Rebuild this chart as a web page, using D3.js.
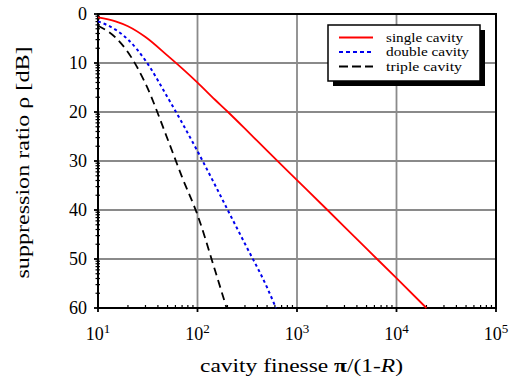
<!DOCTYPE html>
<html><head><meta charset="utf-8">
<script src="https://cdn.jsdelivr.net/npm/d3@7"></script>
<style>
html,body{margin:0;padding:0;background:#fff;}
text{font-family:"Liberation Serif","Times New Roman",serif;fill:#000;}
</style></head>
<body><svg id="c" width="522" height="381"></svg>
<script>
// ---- data ----
const singleF   = [10, 15, 20, 30, 50, 70, 100, 150, 200, 300, 500, 1000, 2000, 5000, 10000, 20000];
const singleRho = [0.7, 1.5, 2.5, 4.7, 8.5, 11.1, 14.0, 17.5, 19.9, 23.4, 27.9, 33.9, 39.9, 47.9, 53.9, 60.0];
const doubleF   = [10, 15, 20, 30, 50, 70, 100, 150, 200, 300, 500, 615];
const doubleRho = [1.5, 3.2, 5.2, 9.5, 17.0, 22.2, 28.0, 34.9, 39.9, 46.9, 55.8, 60.0];
const tripleF   = [10, 15, 20, 30, 50, 70, 100, 150, 196];
const tripleRho = [2.4, 4.8, 7.8, 14.2, 25.5, 33.3, 41.0, 52.3, 60.0];
const xTickExp  = [1, 2, 3, 4, 5];
const yTicks    = [0, 10, 20, 30, 40, 50, 60];
const seriesNames = ["single cavity", "double cavity", "triple cavity"];

const L = 98, R = 496, T = 14, B = 308;
const svg = d3.select("#c");
const x = d3.scaleLog().domain([10, 1e5]).range([L, R]);
const y = d3.scaleLinear().domain([0, 60]).range([T, B]);

// grid
const grid = svg.append("g").attr("stroke", "#8a8a8a").attr("stroke-width", 1.8);
xTickExp.slice(1, -1).forEach(e => {
  grid.append("line").attr("x1", x(10 ** e)).attr("x2", x(10 ** e)).attr("y1", T).attr("y2", B);
});
yTicks.slice(1, -1).forEach(v => {
  grid.append("line").attr("x1", L).attr("x2", R).attr("y1", y(v)).attr("y2", y(v));
});

// minor ticks
const tk = svg.append("g").attr("stroke", "#000").attr("stroke-width", 1.2);
for (let e = 1; e < 5; e++) {
  for (let k = 2; k <= 9; k++) {
    const xv = x(k * 10 ** e);
    tk.append("line").attr("x1", xv).attr("x2", xv).attr("y1", B - 3).attr("y2", B + 1);
  }
}
for (let m = 0; m < 60; m += 10) {
  for (let k = 2; k <= 9; k++) {
    const yv = y(m + 10 * Math.log10(10 / k));
    tk.append("line").attr("x1", L - 2.5).attr("x2", L + 2).attr("y1", yv).attr("y2", yv);
  }
}
// major ticks
xTickExp.forEach(e => {
  tk.append("line").attr("x1", x(10 ** e)).attr("x2", x(10 ** e)).attr("y1", B).attr("y2", B + 4).attr("stroke-width", 1.8);
});
yTicks.forEach(v => {
  tk.append("line").attr("x1", L - 4).attr("x2", L).attr("y1", y(v)).attr("y2", y(v)).attr("stroke-width", 1.8);
});

// frame
svg.append("rect").attr("x", L).attr("y", T).attr("width", R - L).attr("height", B - T)
  .attr("fill", "none").attr("stroke", "#000").attr("stroke-width", 2);

// tick labels
yTicks.forEach(v => {
  svg.append("text").attr("x", 87).attr("y", y(v) + 6).attr("text-anchor", "end")
    .attr("font-size", 18).text(v);
});
xTickExp.forEach(e => {
  const t = svg.append("text").attr("x", x(10 ** e)).attr("y", 340).attr("text-anchor", "middle").attr("font-size", 18);
  t.append("tspan").text("10");
  t.append("tspan").attr("font-size", 13).attr("dy", -7).text(e);
});

// axis titles
const xt = svg.append("text").attr("x", 301.5).attr("y", 372).attr("text-anchor", "middle").attr("font-size", 18)
  .attr("textLength", 203).attr("lengthAdjust", "spacingAndGlyphs");
xt.append("tspan").text("cavity finesse ");
xt.append("tspan").attr("font-weight", "bold").text("π");
xt.append("tspan").text("/(1-");
xt.append("tspan").attr("font-style", "italic").text("R");
xt.append("tspan").text(")");

svg.append("text").attr("transform", "translate(29,162.5) rotate(-90)").attr("text-anchor", "middle")
  .attr("font-size", 18).attr("textLength", 232).attr("lengthAdjust", "spacingAndGlyphs")
  .text("suppression ratio ρ [dB]");

// curves
const line = d3.line().x(d => x(d[0])).y(d => y(d[1])).curve(d3.curveMonotoneX);
const styles = [
  {c: "#ff0000", dash: null, w: 1.8},
  {c: "#0000ee", dash: "3,3", w: 2},
  {c: "#000000", dash: "8,5", w: 1.8}
];
const data = [
  d3.zip(singleF, singleRho),
  d3.zip(doubleF, doubleRho),
  d3.zip(tripleF, tripleRho)
];
data.forEach((d, i) => {
  svg.append("path").attr("d", line(d)).attr("fill", "none")
    .attr("stroke", styles[i].c).attr("stroke-width", styles[i].w)
    .attr("stroke-dasharray", styles[i].dash);
});

// legend
const lx = 328, ly = 25, lw = 152, lh = 56;
svg.append("rect").attr("x", lx + 5).attr("y", ly + 5).attr("width", lw).attr("height", lh).attr("fill", "#000");
svg.append("rect").attr("x", lx).attr("y", ly).attr("width", lw).attr("height", lh)
  .attr("fill", "#fff").attr("stroke", "#000").attr("stroke-width", 1.5);
const legDash = [null, "4,3", "9,4"];
const legLen = [77, 83, 76];
seriesNames.forEach((n, i) => {
  const yy = 37.5 + i * 14.5;
  svg.append("line").attr("x1", 339).attr("x2", 373).attr("y1", yy).attr("y2", yy)
    .attr("stroke", styles[i].c).attr("stroke-width", 1.8).attr("stroke-dasharray", legDash[i]);
  svg.append("text").attr("x", 386).attr("y", yy + 4).attr("font-size", 13)
    .attr("textLength", legLen[i]).attr("lengthAdjust", "spacingAndGlyphs").text(n);
});
</script></body></html>
